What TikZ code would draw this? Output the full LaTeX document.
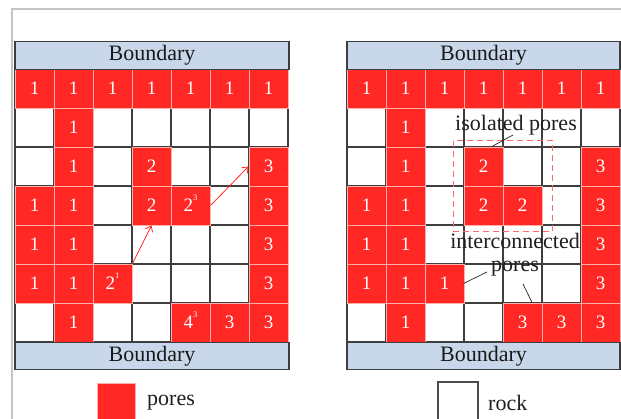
\documentclass[tikz,border=0pt]{standalone}
\usepackage{fontspec}
\setmainfont{Liberation Serif}
\usepackage{xcolor}
\usepackage{tikz}
\usetikzlibrary{arrows.meta,positioning,fit,calc}
\definecolor{PoreRed}{RGB}{255,40,36}
\definecolor{PoreEdge}{RGB}{255,175,170}
\definecolor{RockEdge}{RGB}{62,62,62}
\definecolor{BoundBlue}{RGB}{200,216,234}
\definecolor{FrameGray}{RGB}{196,196,196}
\definecolor{IsoDash}{RGB}{255,105,105}
\newcommand{\exptag}[2]{#1\raisebox{11pt}[0pt][0pt]{\fontsize{8.5}{8.5}\selectfont #2}}

\begin{document}
\begin{tikzpicture}[
    x=1pt, y=-1pt,
    rockcell/.style={draw=RockEdge, line width=1.1pt, fill=white, minimum size=39pt, inner sep=0pt},
    porecell/.style={draw=PoreEdge, line width=0.8pt, fill=PoreRed, minimum size=39pt, inner sep=0pt, text=white, font=\fontsize{19}{19}\selectfont},
    boundbar/.style={draw=RockEdge, line width=1.1pt, fill=BoundBlue, minimum width=273pt, minimum height=27.5pt, inner sep=0pt, text=black!90, font=\fontsize{22}{22}\selectfont},
    note/.style={inner sep=0pt, text=black!88, font=\fontsize{22}{23}\selectfont},
    leader/.style={draw=black!85, line width=0.7pt},
    flow/.style={-{Straight Barb[length=5pt,width=8pt]}, draw=PoreRed, line width=0.8pt}
  ]
    \useasboundingbox (0,0) rectangle (621,419);
    \draw[FrameGray, line width=1.2pt] (12,419) -- (12,9) -- (621,9);
    \foreach \g/\x in {L/15,R/347} {\foreach \r in {1,...,7} {\foreach \c in {1,...,7} {\node[rockcell] (\g-\r-\c) at ({\x+39*\c-19.5},{69+39*\r-19.5}) {};}}}
    \foreach \g in {L,R} {\foreach \c in {1,...,7} {\node[porecell] at (\g-1-\c) {1};}}
    \foreach \r/\c/\n in {2/2/1,3/2/1,3/4/2,3/7/3,4/1/1,4/2/1,4/4/2,4/5/\exptag{2}{3},4/7/3,5/1/1,5/2/1,5/7/3,6/1/1,6/2/1,6/3/\exptag{2}{1},6/7/3,7/2/1,7/5/\exptag{4}{3},7/6/3,7/7/3} {\node[porecell] at (L-\r-\c) {\n};}
    \foreach \r/\c/\n in {2/2/1,3/2/1,3/4/2,3/7/3,4/1/1,4/2/1,4/4/2,4/5/2,4/7/3,5/1/1,5/2/1,5/7/3,6/1/1,6/2/1,6/3/1,6/7/3,7/2/1,7/5/3,7/6/3,7/7/3} {\node[porecell] at (R-\r-\c) {\n};}
    \node[boundbar, minimum width=274pt] (Ltop) at (152,55.5) {Boundary};
    \node[boundbar, minimum width=274pt] (Lbot) at (152,356) {Boundary};
    \node[boundbar] (Rtop) at (483.5,55.5) {Boundary};
    \node[boundbar] (Rbot) at (483.5,356) {Boundary};
    \draw[flow] (L-6-3.north east) -- (L-4-4.south);
    \draw[flow] (L-4-5.east) -- (L-3-7.west);
    \node[draw=IsoDash, dash pattern=on 6pt off 4pt, line width=0.9pt, fit=(R-3-4)(R-4-5), inner xsep=10pt, inner ysep=6pt] (isobox) {};
    \node[note, anchor=base] (isolab) at (516,131) {isolated pores};
    \draw[leader] ([xshift=8.5pt]R-3-4.north) -- ([xshift=-3pt,yshift=-4pt]isolab.base);
    \node[note, anchor=base, align=center] (conlab) at (515,272) {interconnected\\pores};
    \coordinate (conA) at (487,272);
    \coordinate (conB) at (523,284);
    \draw[leader] (R-6-4.west) -- (conA);
    \draw[leader] ([xshift=9.5pt]R-7-5.north) -- (conB);
    \node[porecell, minimum size=38pt] (poreleg) at (116,402) {};
    \node[note, anchor=base west] (porelab) at (147,405) {pores};
    \node[rockcell, draw=black!70, minimum size=40pt] (rockleg) at (458,402) {};
    \node[note, anchor=base west] (rocklab) at (488,410) {rock};
  \end{tikzpicture}
\end{document}
